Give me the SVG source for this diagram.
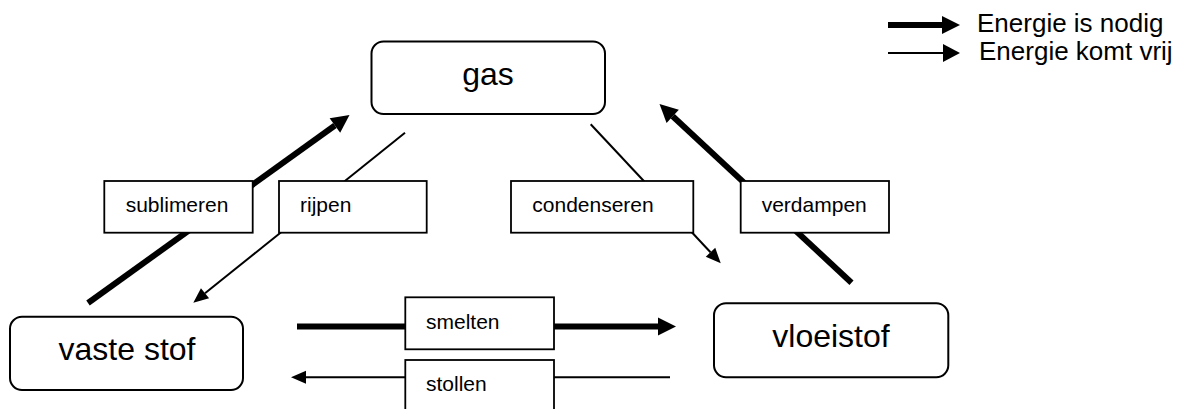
<svg xmlns="http://www.w3.org/2000/svg" width="1182" height="409" viewBox="0 0 1182 409">
  <style>
    .node rect { fill: #fff; stroke: #000; stroke-width: 2; }
    .node text { font-family: "Liberation Sans", Arial, sans-serif; font-size: 32px; fill: #000; text-anchor: middle; }
    .label rect { fill: #fff; stroke: #000; stroke-width: 1.8; }
    .label text { font-family: "Liberation Sans", Arial, sans-serif; font-size: 21px; fill: #000; }
    .legend text { font-family: "Liberation Sans", Arial, sans-serif; font-size: 26px; fill: #000; }
    .thick { stroke: #000; stroke-width: 6; fill: none; marker-end: url(#headThick); }
    .thin { stroke: #000; stroke-width: 2; fill: none; marker-end: url(#headThin); }
    .legend .thin { marker-end: url(#headKey); }
  </style>
  <defs>
    <marker id="headThick" markerUnits="userSpaceOnUse" viewBox="0 -10 20 20" markerWidth="20" markerHeight="20" refX="0" refY="0" orient="auto" overflow="visible">
      <path d="M0,-9 L18,0 L0,9 Z" fill="#000"/>
    </marker>
    <marker id="headThin" markerUnits="userSpaceOnUse" viewBox="0 -10 20 20" markerWidth="20" markerHeight="20" refX="0" refY="0" orient="auto" overflow="visible">
      <path d="M0,-6.5 L15,0 L0,6.5 Z" fill="#000"/>
    </marker>
    <marker id="headKey" markerUnits="userSpaceOnUse" viewBox="0 -10 20 20" markerWidth="20" markerHeight="20" refX="0" refY="0" orient="auto" overflow="visible">
      <path d="M0,-9 L17,0 L0,9 Z" fill="#000"/>
    </marker>
  </defs>
  <rect width="1182" height="409" fill="#fff"/>

  <!-- phase transitions: thick = energy absorbed, thin = energy released -->
  <g id="connectors">
    <line id="e-sublimeren" class="thick" x1="88" y1="303" x2="334.9" y2="125.5"/>
    <line id="e-rijpen" class="thin" x1="405" y1="132.7" x2="205" y2="293.3"/>
    <line id="e-condenseren" class="thin" x1="590.7" y1="124.3" x2="710.5" y2="252.3"/>
    <line id="e-verdampen" class="thick" x1="851.5" y1="282.7" x2="672.7" y2="116.3"/>
    <line id="e-smelten" class="thick" x1="297" y1="326.5" x2="658" y2="326.5"/>
    <line id="e-stollen" class="thin" x1="670" y1="377.3" x2="306" y2="377.3"/>
  </g>

  <!-- transition labels sitting on the connectors -->
  <g id="label-sublimeren" class="label">
    <rect x="104.3" y="181" width="148.4" height="51.7"/>
    <text x="125.7" y="211.7">sublimeren</text>
  </g>
  <g id="label-rijpen" class="label">
    <rect x="279" y="181" width="147.7" height="51.7"/>
    <text x="300" y="211.7">rijpen</text>
  </g>
  <g id="label-condenseren" class="label">
    <rect x="511" y="181" width="182.3" height="51.7"/>
    <text x="532.3" y="211.7">condenseren</text>
  </g>
  <g id="label-verdampen" class="label">
    <rect x="740.7" y="181" width="148.3" height="51.7"/>
    <text x="761.7" y="211.7">verdampen</text>
  </g>
  <g id="label-smelten" class="label">
    <rect x="405.3" y="297.3" width="148.7" height="52"/>
    <text x="426" y="329.3">smelten</text>
  </g>
  <g id="label-stollen" class="label">
    <rect x="405.3" y="360" width="148.7" height="60"/>
    <text x="426" y="391">stollen</text>
  </g>

  <!-- states of matter -->
  <g id="node-gas" class="node">
    <rect x="371.5" y="41.5" width="233.5" height="72.5" rx="12"/>
    <text x="488" y="85">gas</text>
  </g>
  <g id="node-vaste-stof" class="node">
    <rect x="10" y="316.7" width="233" height="73.3" rx="12"/>
    <text x="127" y="360">vaste stof</text>
  </g>
  <g id="node-vloeistof" class="node">
    <rect x="714" y="303.3" width="234.3" height="74" rx="12"/>
    <text x="831" y="347.3">vloeistof</text>
  </g>

  <!-- legend -->
  <g id="legend" class="legend">
    <line class="thick" x1="888" y1="25" x2="942" y2="25"/>
    <text x="977" y="32">Energie is nodig</text>
    <line class="thin" x1="888" y1="53" x2="943" y2="53"/>
    <text x="979" y="60">Energie komt vrij</text>
  </g>
</svg>
